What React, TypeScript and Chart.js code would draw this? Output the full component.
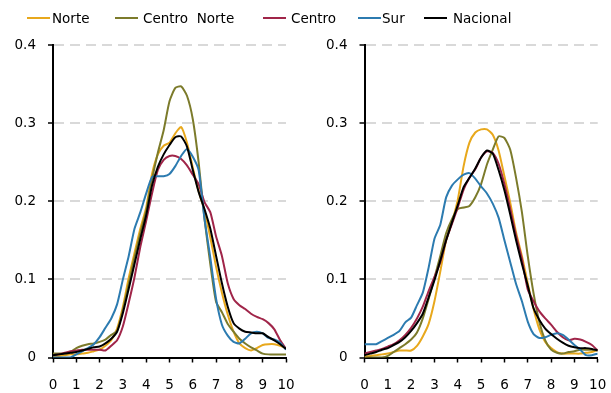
import React, { useEffect, useRef } from "react";
import { Chart, registerables } from "chart.js";

Chart.register(...registerables);

// ---------- data ----------
const SERIES_NAMES = ["Norte", "Centro  Norte", "Centro", "Sur", "Nacional"];
const SERIES_COLORS = ["#E8A81C", "#7C7B2B", "#A02549", "#2C7BB0", "#000000"];

const X_VALUES = [
  0, 0.25, 0.5, 0.75, 1, 1.25, 1.5, 1.75, 2, 2.25, 2.5, 2.75, 3, 3.25, 3.5, 3.75,
  4, 4.25, 4.5, 4.75, 5, 5.25, 5.5, 5.75, 6, 6.25, 6.5, 6.75, 7, 7.25, 7.5, 7.75,
  8, 8.25, 8.5, 8.75, 9, 9.25, 9.5, 9.75, 10,
];

const X_TICKS = [0, 1, 2, 3, 4, 5, 6, 7, 8, 9, 10];
const X_TICK_LABELS = ["0", "1", "2", "3", "4", "5", "6", "7", "8", "9", "10"];
const Y_TICKS = [0, 0.1, 0.2, 0.3, 0.4];
const Y_TICK_LABELS = ["0", "0.1", "0.2", "0.3", "0.4"];

// Left panel
const LEFT_NORTE = [
  0.002, 0.002, 0.003, 0.004, 0.004, 0.005, 0.006, 0.008, 0.010, 0.015, 0.022, 0.037, 0.065, 0.102, 0.134, 0.165,
  0.192, 0.235, 0.260, 0.271, 0.275, 0.287, 0.295, 0.275, 0.243, 0.213, 0.188, 0.154, 0.116, 0.083, 0.055, 0.033,
  0.018, 0.012, 0.009, 0.012, 0.016, 0.017, 0.017, 0.015, 0.012,
];
const LEFT_CENTRO_NORTE = [
  0.005, 0.005, 0.005, 0.007, 0.012, 0.015, 0.017, 0.018, 0.020, 0.023, 0.029, 0.034, 0.061, 0.094, 0.128, 0.159,
  0.188, 0.228, 0.262, 0.291, 0.328, 0.345, 0.347, 0.335, 0.305, 0.250, 0.178, 0.120, 0.071, 0.058, 0.043, 0.033,
  0.024, 0.018, 0.013, 0.009, 0.005, 0.004, 0.004, 0.004, 0.004,
];
const LEFT_CENTRO = [
  0.003, 0.004, 0.006, 0.008, 0.009, 0.010, 0.010, 0.010, 0.010, 0.009, 0.015, 0.022, 0.040, 0.070, 0.103, 0.142,
  0.175, 0.210, 0.240, 0.253, 0.258, 0.258, 0.254, 0.246, 0.234, 0.222, 0.199, 0.186, 0.155, 0.130, 0.095, 0.075,
  0.067, 0.062, 0.056, 0.052, 0.049, 0.044, 0.036, 0.022, 0.011,
];
const LEFT_SUR = [
  0.000, 0.000, 0.000, 0.000, 0.004, 0.008, 0.012, 0.017, 0.026, 0.038, 0.050, 0.068, 0.100, 0.130, 0.165, 0.186,
  0.210, 0.231, 0.232, 0.232, 0.235, 0.245, 0.258, 0.267, 0.257, 0.240, 0.178, 0.128, 0.075, 0.042, 0.028, 0.020,
  0.018, 0.024, 0.031, 0.033, 0.031, 0.025, 0.023, 0.019, 0.010,
];
const LEFT_NACIONAL = [
  0.003, 0.004, 0.005, 0.006, 0.007, 0.009, 0.011, 0.013, 0.014, 0.018, 0.024, 0.033, 0.057, 0.088, 0.120, 0.152,
  0.182, 0.220, 0.244, 0.260, 0.272, 0.282, 0.283, 0.270, 0.240, 0.212, 0.190, 0.165, 0.130, 0.095, 0.065, 0.044,
  0.037, 0.033, 0.032, 0.031, 0.031, 0.026, 0.022, 0.017, 0.011,
];

// Right panel
const RIGHT_NORTE = [
  0.001, 0.002, 0.003, 0.004, 0.005, 0.007, 0.009, 0.009, 0.009, 0.015, 0.027, 0.043, 0.072, 0.110, 0.150, 0.173,
  0.202, 0.245, 0.275, 0.288, 0.292, 0.292, 0.285, 0.265, 0.232, 0.198, 0.160, 0.130, 0.095, 0.062, 0.036, 0.020,
  0.012, 0.007, 0.005, 0.005, 0.005, 0.005, 0.006, 0.007, 0.010,
];
const RIGHT_CENTRO_NORTE = [
  0.000, 0.000, 0.000, 0.000, 0.002, 0.007, 0.012, 0.017, 0.023, 0.032, 0.050, 0.075, 0.102, 0.130, 0.159, 0.177,
  0.190, 0.192, 0.194, 0.205, 0.222, 0.247, 0.266, 0.283, 0.281, 0.266, 0.230, 0.186, 0.130, 0.082, 0.045, 0.022,
  0.010, 0.006, 0.005, 0.007, 0.008, 0.010, 0.010, 0.010, 0.009,
];
const RIGHT_CENTRO = [
  0.005, 0.007, 0.009, 0.011, 0.014, 0.017, 0.022, 0.029, 0.038, 0.050, 0.065, 0.085, 0.103, 0.122, 0.150, 0.171,
  0.192, 0.215, 0.230, 0.241, 0.256, 0.264, 0.262, 0.248, 0.222, 0.190, 0.156, 0.126, 0.087, 0.072, 0.059, 0.050,
  0.042, 0.033, 0.026, 0.022, 0.024, 0.023, 0.020, 0.016, 0.009,
];
const RIGHT_SUR = [
  0.017, 0.017, 0.017, 0.021, 0.025, 0.029, 0.034, 0.045, 0.051, 0.067, 0.083, 0.115, 0.152, 0.170, 0.205, 0.220,
  0.228, 0.234, 0.236, 0.229, 0.219, 0.210, 0.197, 0.179, 0.150, 0.122, 0.094, 0.072, 0.046, 0.030, 0.025, 0.026,
  0.029, 0.031, 0.029, 0.023, 0.016, 0.010, 0.003, 0.003, 0.005,
];
const RIGHT_NACIONAL = [
  0.003, 0.005, 0.007, 0.010, 0.012, 0.016, 0.020, 0.026, 0.034, 0.044, 0.056, 0.077, 0.099, 0.124, 0.150, 0.173,
  0.195, 0.218, 0.230, 0.242, 0.256, 0.265, 0.261, 0.240, 0.214, 0.183, 0.150, 0.120, 0.092, 0.063, 0.048, 0.037,
  0.030, 0.024, 0.019, 0.015, 0.013, 0.012, 0.012, 0.011, 0.009,
];

const LEFT_SERIES = [LEFT_NORTE, LEFT_CENTRO_NORTE, LEFT_CENTRO, LEFT_SUR, LEFT_NACIONAL];
const RIGHT_SERIES = [RIGHT_NORTE, RIGHT_CENTRO_NORTE, RIGHT_CENTRO, RIGHT_SUR, RIGHT_NACIONAL];

// ---------- layout ----------
const FONT_FAMILY = "'DejaVu Sans', sans-serif";
const FONT_SIZE = 13.5;
const LEGEND_SWATCH_LEFT = [27, 115, 263, 358, 424];
const LEGEND_TEXT_LEFT = [52, 143, 291, 382, 453];

type PanelProps = {
  series: number[][];
  left: number;
  width: number;
  axisWidth: number;
  rightPad: number;
};

function Panel({ series, left, width, axisWidth, rightPad }: PanelProps) {
  const ref = useRef<HTMLCanvasElement | null>(null);

  useEffect(() => {
    if (!ref.current) return;
    const font = { family: FONT_FAMILY, size: FONT_SIZE };
    const chart = new Chart(ref.current, {
      type: "line",
      data: {
        datasets: series.map((vals, i) => ({
          label: SERIES_NAMES[i],
          data: X_VALUES.map((x, j) => ({ x, y: vals[j] })),
          borderColor: SERIES_COLORS[i],
          backgroundColor: SERIES_COLORS[i],
          borderWidth: 2,
          pointRadius: 0,
          tension: 0.2,
          fill: false,
          order: series.length - i,
        })),
      },
      options: {
        animation: false,
        responsive: false,
        maintainAspectRatio: false,
        events: [],
        layout: { padding: { left: 0, right: rightPad, top: 45, bottom: 0 } },
        plugins: { legend: { display: false }, tooltip: { enabled: false } },
        scales: {
          x: {
            type: "linear",
            min: 0,
            max: 10,
            afterBuildTicks: (s: any) => {
              s.ticks = X_TICKS.map((v) => ({ value: v }));
            },
            afterFit: (s: any) => {
              s.height = 35.5;
              s.paddingLeft = 0;
              s.paddingRight = 0;
            },
            ticks: {
              autoSkip: false,
              maxRotation: 0,
              padding: 15,
              color: "#000",
              font,
              callback: (v: any) => {
                const idx = X_TICKS.indexOf(Number(v));
                return idx >= 0 ? X_TICK_LABELS[idx] : "";
              },
            },
            grid: {
              drawOnChartArea: false,
              drawTicks: true,
              tickLength: 5,
              tickColor: "#000",
              tickWidth: 1.5,
            },
            border: { display: true, color: "#000", width: 2 },
          },
          y: {
            type: "linear",
            min: 0,
            max: 0.4,
            afterBuildTicks: (s: any) => {
              s.ticks = Y_TICKS.map((v) => ({ value: v }));
            },
            afterFit: (s: any) => {
              s.width = axisWidth;
            },
            ticks: {
              padding: 12,
              color: "#000",
              font,
              callback: (v: any) => {
                const idx = Y_TICKS.findIndex((t) => Math.abs(t - Number(v)) < 1e-9);
                return idx >= 0 ? Y_TICK_LABELS[idx] : "";
              },
            },
            grid: {
              color: (ctx: any) =>
                ctx.tick && Math.abs(ctx.tick.value) < 1e-9 ? "rgba(0,0,0,0)" : "#D9D9D9",
              lineWidth: 2,
              drawTicks: true,
              tickLength: 5,
              tickColor: "#000",
              tickWidth: 1.5,
              tickBorderDash: [],
            },
            border: { display: true, color: "#000", width: 2, dash: [10, 6] },
          },
        },
      },
    } as any);
    return () => chart.destroy();
  }, [series, axisWidth, rightPad]);

  return (
    <canvas
      ref={ref}
      width={width}
      height={393}
      style={{ position: "absolute", left, top: 0, width, height: 393 }}
    />
  );
}

function Legend() {
  return (
    <>
      {SERIES_NAMES.map((name, i) => (
        <React.Fragment key={name}>
          <div
            style={{
              position: "absolute",
              left: LEGEND_SWATCH_LEFT[i],
              top: 17,
              width: 23,
              height: 2,
              background: SERIES_COLORS[i],
            }}
          />
          <div
            style={{
              position: "absolute",
              left: LEGEND_TEXT_LEFT[i],
              top: 9,
              height: 18,
              lineHeight: "18px",
              fontFamily: FONT_FAMILY,
              fontSize: FONT_SIZE,
              color: "#000",
              whiteSpace: "pre",
            }}
          >
            {name}
          </div>
        </React.Fragment>
      ))}
    </>
  );
}

export default function App() {
  return (
    <div
      style={{
        position: "absolute",
        left: 0,
        top: 0,
        width: 611,
        height: 393,
        background: "#fff",
        overflow: "hidden",
      }}
    >
      <Panel series={LEFT_SERIES} left={0} width={300} axisWidth={53} rightPad={14} />
      <Panel series={RIGHT_SERIES} left={300} width={311} axisWidth={64.5} rightPad={13.3} />
      <Legend />
    </div>
  );
}
